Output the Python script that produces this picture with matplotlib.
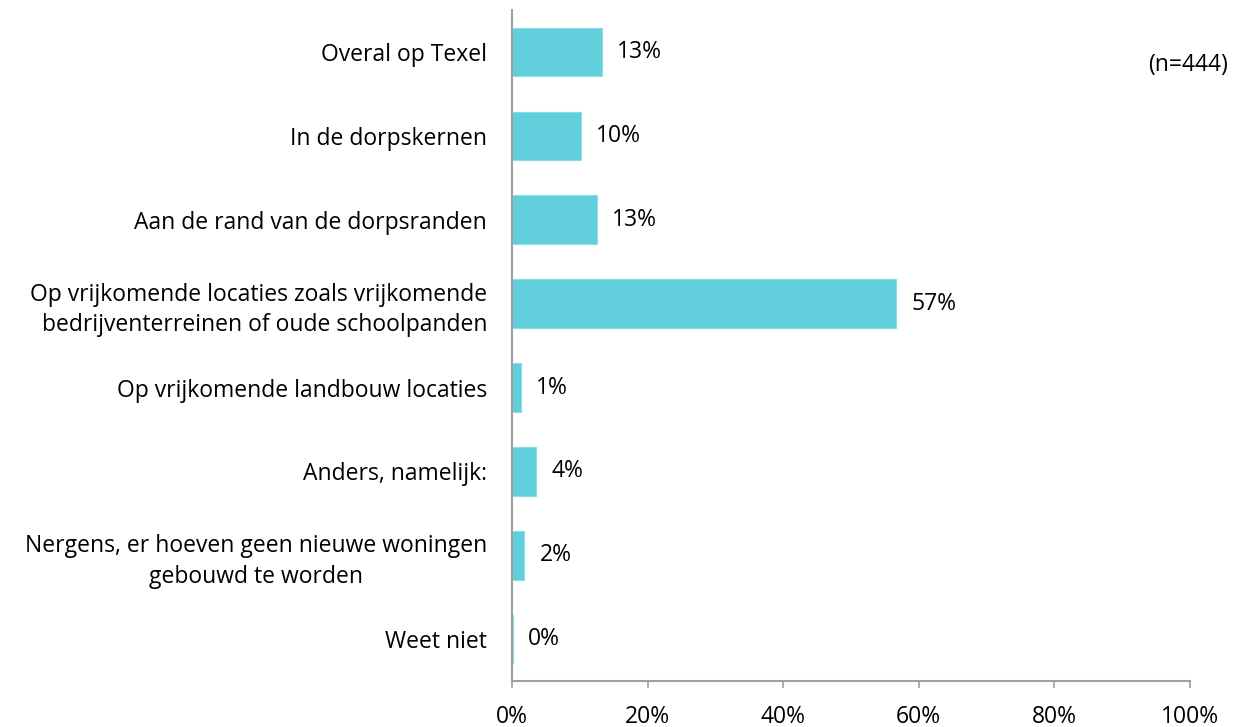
import matplotlib.pyplot as plt

# Survey answers (n=444)
categories = [
    "Overal op Texel",
    "In de dorpskernen",
    "Aan de rand van de dorpsranden",
    "Op vrijkomende locaties zoals vrijkomende\nbedrijventerreinen of oude schoolpanden",
    "Op vrijkomende landbouw locaties",
    "Anders, namelijk:",
    "Nergens, er hoeven geen nieuwe woningen\ngebouwd te worden",
    "Weet niet",
]
values = [13.2, 10.1, 12.5, 56.6, 1.3, 3.6, 1.8, 0.15]
value_labels = ["13%", "10%", "13%", "57%", "1%", "4%", "2%", "0%"]
x_ticks = [0, 20, 40, 60, 80, 100]
x_tick_labels = ["0%", "20%", "40%", "60%", "80%", "100%"]

plt.rcParams['font.family'] = ['Open Sans', 'DejaVu Sans']
fs = 16.5

fig = plt.figure(figsize=(12.38, 7.27), dpi=100)
ax = fig.add_axes([0.4136, 0.0633, 0.5476, 0.9227])

y = list(range(len(categories)))
ax.barh(y, values, height=0.58, color='#62CFDD', edgecolor='#8ADDE8', linewidth=0.8)

for yi, v, lab in zip(y, values, value_labels):
    ax.annotate(lab, (v, yi), xytext=(11, 0), textcoords='offset points',
                va='center', ha='left', fontsize=fs)

ax.set_xlim(0, 100)
ax.set_ylim(len(categories) - 0.5, -0.5)
ax.set_xticks(x_ticks)
ax.set_xticklabels(x_tick_labels, fontsize=fs)
ax.set_yticks(y)
ax.set_yticklabels(categories, fontsize=fs, linespacing=1.35)
for i, t in enumerate(ax.get_yticklabels()):
    t.set_multialignment('center' if i == 6 else 'right')

for s in ['top', 'right']:
    ax.spines[s].set_visible(False)
for s in ['left', 'bottom']:
    ax.spines[s].set_color('#a0a0a0')
    ax.spines[s].set_linewidth(1.5)

ax.tick_params(axis='y', length=0, pad=18)
ax.tick_params(axis='x', direction='out', length=5, color='#a0a0a0', width=1.2, pad=12)

fig.text(0.992, 0.911, "(n=444)", ha='right', va='center', fontsize=fs)

fig.savefig('out.png', dpi=100)
